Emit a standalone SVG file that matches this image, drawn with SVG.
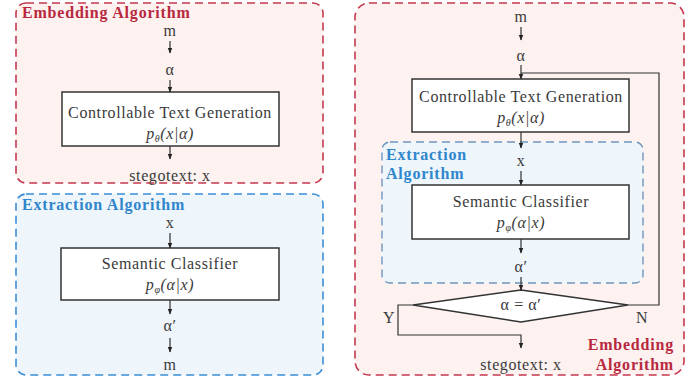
<svg xmlns="http://www.w3.org/2000/svg" width="694" height="383" viewBox="0 0 694 383">
<defs>
<marker id="ah" viewBox="0 0 10 10" refX="9" refY="5" markerWidth="6" markerHeight="6" orient="auto" markerUnits="userSpaceOnUse">
<path d="M0,1 L10,5 L0,9 Z" fill="#222"/>
</marker>
<style>
.t{font-family:"Liberation Serif","Times New Roman",serif;font-size:16px;letter-spacing:0.6px;fill:#3a3a3a;text-anchor:middle}
.i{font-style:italic}
.red{fill:#fdf2f0;stroke:#c4394f;stroke-width:1.6;stroke-dasharray:8 5}
.blue{fill:#eef5fb;stroke:#3b8ed6;stroke-width:1.6;stroke-dasharray:8 5}
.blue2{fill:#eef5fb;stroke:#6f97bf;stroke-width:1.4;stroke-dasharray:8 5}
.tr{font-family:"Liberation Serif","Times New Roman",serif;font-size:16px;letter-spacing:0.8px;font-weight:bold;fill:#b8283e}
.tb{font-family:"Liberation Serif","Times New Roman",serif;font-size:16px;letter-spacing:0.8px;font-weight:bold;fill:#2f86cc}
.box{fill:#fff;stroke:#333;stroke-width:1.5}
.ln{fill:none;stroke:#333;stroke-width:1.2}
.ar{fill:none;stroke:#333;stroke-width:1.2;marker-end:url(#ah)}
</style>
</defs>

<g id="embed-left">
<rect class="red" x="16" y="3" width="307" height="180" rx="10"/>
<text class="tr" x="22" y="18">Embedding Algorithm</text>
</g>
<g id="extract-left">
<rect class="blue" x="16" y="194" width="307" height="181" rx="10"/>
<text class="tb" x="22" y="210">Extraction Algorithm</text>
</g>
<g id="embed-right">
<rect class="red" x="355" y="3" width="329" height="372" rx="14"/>
<text class="tr" x="674" y="350" text-anchor="end">Embedding</text>
<text class="tr" x="674" y="370" text-anchor="end">Algorithm</text>
</g>
<g id="extract-right">
<rect class="blue2" x="382" y="142" width="261" height="141" rx="8"/>
<text class="tb" x="386" y="160">Extraction</text>
<text class="tb" x="386" y="179">Algorithm</text>
</g>

<g id="L-m"><text class="t" x="170" y="36">m</text></g>
<g id="L-alpha"><text class="t" x="170" y="75">α</text></g>
<g id="L-ctg">
<rect class="box" x="62" y="92" width="217" height="54"/>
<text class="t" x="170" y="118">Controllable Text Generation</text>
<text class="t i" x="170" y="139">p<tspan font-size="10" dy="3">θ</tspan><tspan dy="-3">(x|α)</tspan></text>
</g>
<g id="L-stego"><text class="t" x="170" y="181">stegotext: x</text></g>

<g id="L2-x"><text class="t" x="170" y="228">x</text></g>
<g id="L2-sc">
<rect class="box" x="61" y="248" width="218" height="52"/>
<text class="t" x="170" y="269">Semantic Classifier</text>
<text class="t i" x="170" y="290">p<tspan font-size="10" dy="3">φ</tspan><tspan dy="-3">(α|x)</tspan></text>
</g>
<g id="L2-alpha"><text class="t" x="170" y="331">α′</text></g>
<g id="L2-m"><text class="t" x="170" y="370">m</text></g>

<g id="R-m"><text class="t" x="521" y="22">m</text></g>
<g id="R-alpha"><text class="t" x="521" y="61">α</text></g>
<g id="R-ctg">
<rect class="box" x="412" y="79" width="217" height="53"/>
<text class="t" x="521" y="102">Controllable Text Generation</text>
<text class="t i" x="521" y="123">p<tspan font-size="10" dy="3">θ</tspan><tspan dy="-3">(x|α)</tspan></text>
</g>
<g id="R-x"><text class="t" x="521" y="166">x</text></g>
<g id="R-sc">
<rect class="box" x="412" y="185" width="217" height="54"/>
<text class="t" x="521" y="207">Semantic Classifier</text>
<text class="t i" x="521" y="228">p<tspan font-size="10" dy="3">φ</tspan><tspan dy="-3">(α|x)</tspan></text>
</g>
<g id="R-alpha2"><text class="t" x="521" y="272">α′</text></g>
<g id="R-decision">
<polygon class="box" points="521,290 628,305 521,322 413,305"/>
<text class="t" x="521" y="310">α = α′</text>
</g>
<g id="R-stego"><text class="t" x="521" y="370">stegotext: x</text></g>

<g id="connectors">
<line class="ar" x1="170" y1="41" x2="170" y2="53"/>
<line class="ar" x1="170" y1="80" x2="170" y2="92"/>
<line class="ar" x1="170" y1="146" x2="170" y2="159"/>
<line class="ar" x1="170" y1="233" x2="170" y2="248"/>
<line class="ar" x1="170" y1="300" x2="170" y2="314"/>
<line class="ar" x1="170" y1="338" x2="170" y2="352"/>

<line class="ar" x1="521" y1="27" x2="521" y2="40"/>
<line class="ar" x1="521" y1="65" x2="521" y2="79"/>
<line class="ar" x1="521" y1="132" x2="521" y2="148"/>
<line class="ar" x1="521" y1="171" x2="521" y2="185"/>
<line class="ar" x1="521" y1="239" x2="521" y2="253"/>
<line class="ar" x1="521" y1="277" x2="521" y2="290"/>
<polyline class="ln" points="628,305 659,305 659,73 521,73"/>
<polyline class="ar" points="413,305 398,305 398,335 521,335 521,348"/>
<text class="t" x="389" y="323">Y</text>
<text class="t" x="642" y="323">N</text>
</g>
</svg>
